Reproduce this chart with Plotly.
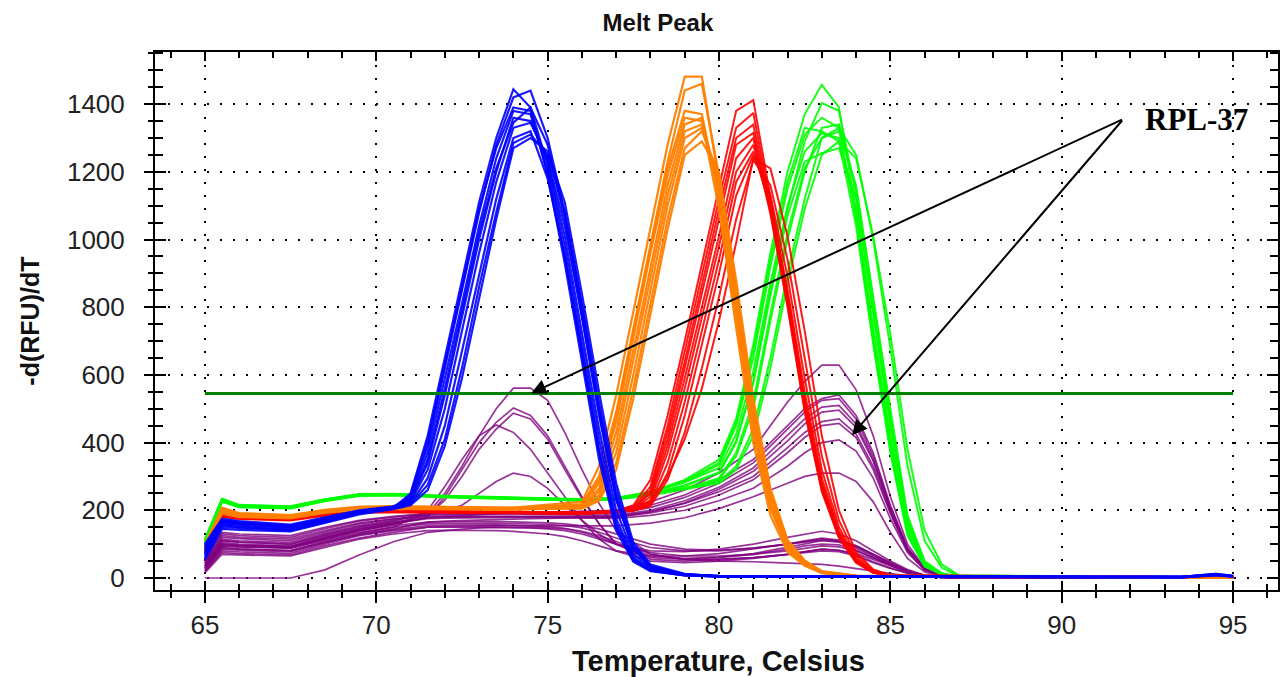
import plotly.graph_objects as go

# ---------------- data ----------------
blue_temps = [65, 65.5, 66, 67.5, 68.5, 69.5, 70.5, 71, 71.5, 72, 72.5, 73, 73.5, 74, 74.5,
              75, 75.5, 76, 76.5, 77, 77.5, 78, 79, 80, 93.5, 94.5, 95]
blue_curves = [
    [60, 150, 148, 140, 165, 190, 205, 250, 420, 650, 880, 1110, 1300, 1444, 1390, 1220, 980, 700, 410, 175, 62, 25, 10, 6, 3, 12, 6],
    [75, 162, 158, 150, 172, 195, 208, 240, 390, 620, 850, 1080, 1280, 1420, 1440, 1300, 1080, 800, 500, 240, 90, 34, 11, 6, 3, 10, 5],
    [85, 168, 162, 152, 175, 197, 210, 235, 370, 590, 810, 1040, 1240, 1380, 1370, 1200, 950, 660, 370, 150, 52, 22, 8, 5, 3, 11, 5],
    [70, 158, 154, 146, 170, 193, 206, 228, 340, 540, 770, 1000, 1200, 1360, 1350, 1230, 1010, 730, 440, 200, 72, 28, 9, 5, 2, 9, 4],
    [95, 172, 165, 155, 177, 198, 210, 225, 320, 500, 730, 960, 1170, 1330, 1345, 1240, 1040, 770, 480, 230, 85, 32, 10, 5, 2, 10, 5],
    [65, 155, 150, 143, 168, 192, 205, 220, 295, 450, 670, 900, 1120, 1300, 1320, 1180, 950, 670, 380, 160, 56, 22, 8, 4, 2, 8, 4],
    [80, 165, 160, 150, 173, 196, 208, 218, 275, 410, 620, 860, 1080, 1285, 1310, 1250, 1080, 810, 520, 260, 95, 36, 11, 5, 2, 9, 4],
    [55, 145, 142, 138, 163, 188, 203, 215, 260, 390, 590, 830, 1060, 1270, 1300, 1260, 1110, 840, 550, 280, 105, 40, 12, 5, 3, 10, 5],
    [90, 170, 163, 153, 176, 198, 210, 245, 405, 630, 860, 1090, 1270, 1390, 1380, 1190, 930, 640, 350, 140, 48, 20, 8, 5, 3, 11, 5],
    [100, 175, 168, 158, 179, 200, 212, 230, 350, 560, 790, 1020, 1210, 1345, 1390, 1280, 1060, 780, 490, 235, 88, 33, 10, 5, 3, 12, 6],
]

orange_temps = [65, 65.5, 66, 67.5, 68.5, 69.5, 70.5, 72, 74, 76, 76.5, 77, 77.5, 78, 78.5,
                79, 79.5, 80, 80.5, 81, 81.5, 82, 82.5, 83, 84, 95]
orange_curves = [
    [95, 205, 190, 185, 200, 210, 212, 210, 208, 225, 330, 540, 790, 1040, 1280, 1481, 1481, 1170, 800, 450, 215, 88, 42, 16, 6, 2],
    [85, 198, 186, 180, 196, 206, 208, 206, 205, 218, 300, 490, 740, 990, 1230, 1440, 1460, 1190, 830, 480, 235, 98, 46, 18, 6, 2],
    [90, 200, 188, 182, 198, 208, 210, 207, 205, 214, 280, 460, 710, 960, 1190, 1360, 1350, 1090, 740, 400, 185, 76, 36, 14, 5, 2],
    [80, 195, 183, 178, 194, 204, 206, 204, 203, 210, 265, 430, 670, 920, 1160, 1340, 1360, 1140, 790, 450, 215, 88, 42, 16, 5, 2],
    [100, 208, 192, 186, 201, 210, 212, 209, 207, 212, 255, 400, 640, 890, 1130, 1320, 1340, 1160, 820, 480, 235, 96, 45, 17, 6, 2],
    [75, 190, 180, 176, 192, 202, 204, 202, 201, 208, 245, 370, 600, 850, 1100, 1300, 1330, 1180, 850, 500, 245, 102, 48, 18, 6, 2],
    [88, 200, 187, 181, 197, 207, 209, 206, 204, 206, 235, 340, 560, 810, 1060, 1270, 1320, 1190, 860, 510, 255, 108, 50, 19, 6, 2],
    [92, 203, 189, 183, 199, 208, 210, 208, 206, 205, 228, 320, 530, 780, 1030, 1250, 1290, 1200, 880, 530, 265, 112, 52, 20, 7, 2],
    [86, 199, 187, 181, 197, 207, 209, 206, 204, 216, 290, 475, 725, 975, 1210, 1380, 1370, 1120, 770, 430, 205, 84, 40, 15, 5, 2],
]

red_temps = [65, 65.5, 66, 67.5, 68.5, 69.5, 70.5, 72, 74, 76, 77, 77.5, 78, 78.5, 79, 79.5,
             80, 80.5, 81, 81.5, 82, 82.5, 83, 83.5, 84, 84.5, 85, 95]
red_curves = [
    [80, 185, 178, 174, 188, 196, 197, 196, 194, 192, 198, 215, 290, 480, 700, 930, 1150, 1380, 1412, 1130, 840, 530, 280, 130, 50, 18, 6, 2],
    [75, 182, 176, 172, 186, 194, 196, 195, 193, 191, 196, 210, 270, 450, 670, 900, 1120, 1330, 1374, 1110, 820, 510, 270, 125, 48, 17, 6, 2],
    [85, 188, 180, 176, 190, 197, 198, 197, 195, 193, 199, 205, 250, 410, 620, 840, 1060, 1280, 1315, 1090, 810, 500, 260, 120, 46, 16, 5, 2],
    [78, 184, 177, 173, 187, 195, 196, 195, 193, 191, 196, 203, 240, 390, 590, 800, 1010, 1240, 1300, 1075, 800, 490, 255, 118, 45, 15, 5, 2],
    [82, 186, 179, 175, 189, 196, 197, 196, 194, 192, 197, 200, 230, 370, 560, 770, 980, 1200, 1280, 1085, 820, 520, 275, 128, 50, 17, 6, 2],
    [70, 180, 174, 170, 184, 192, 194, 193, 191, 189, 194, 198, 220, 340, 520, 730, 940, 1170, 1260, 1100, 850, 550, 295, 138, 54, 18, 6, 2],
    [88, 190, 182, 178, 191, 198, 199, 198, 196, 194, 198, 200, 215, 310, 480, 690, 900, 1130, 1250, 1130, 890, 590, 320, 150, 58, 20, 7, 2],
    [76, 183, 176, 172, 186, 194, 195, 194, 192, 190, 195, 199, 212, 290, 430, 620, 830, 1060, 1235, 1160, 940, 650, 360, 170, 66, 22, 7, 2],
    [84, 187, 180, 176, 190, 197, 198, 197, 195, 193, 198, 201, 225, 300, 410, 560, 760, 990, 1240, 1210, 1010, 730, 420, 200, 76, 25, 8, 2],
    [79, 185, 178, 174, 188, 196, 197, 196, 194, 192, 197, 203, 260, 430, 640, 870, 1090, 1300, 1340, 1100, 820, 515, 270, 124, 48, 16, 5, 2],
]

green_temps = [65, 65.5, 66, 67.5, 68.5, 69.5, 70.5, 72, 74, 76, 77, 78, 79, 80, 80.5, 81,
               81.5, 82, 82.5, 83, 83.5, 84, 84.5, 85, 85.5, 86, 86.5, 87, 95]
green_curves = [
    [110, 232, 214, 210, 232, 247, 248, 242, 237, 232, 236, 255, 290, 350, 470, 690, 960, 1200, 1370, 1457, 1390, 1080, 720, 400, 140, 38, 12, 4, 2],
    [100, 228, 211, 207, 229, 244, 246, 240, 235, 230, 234, 248, 272, 310, 400, 580, 850, 1090, 1290, 1403, 1380, 1130, 780, 450, 160, 42, 12, 4, 2],
    [105, 230, 212, 208, 230, 246, 247, 241, 236, 231, 235, 252, 284, 335, 450, 650, 920, 1150, 1310, 1360, 1330, 1060, 700, 380, 130, 35, 11, 4, 2],
    [95, 225, 209, 205, 227, 242, 244, 238, 233, 228, 232, 244, 262, 290, 360, 500, 760, 1000, 1200, 1330, 1340, 1150, 820, 480, 175, 46, 13, 4, 2],
    [115, 235, 216, 212, 233, 248, 249, 243, 238, 233, 237, 254, 283, 325, 425, 610, 870, 1100, 1260, 1314, 1300, 1090, 740, 420, 150, 40, 11, 4, 2],
    [98, 226, 210, 206, 228, 243, 245, 239, 234, 229, 233, 246, 265, 295, 370, 520, 780, 1020, 1210, 1300, 1320, 1160, 830, 500, 185, 50, 14, 4, 2],
    [108, 231, 213, 209, 231, 246, 247, 241, 236, 231, 235, 250, 274, 312, 405, 575, 835, 1070, 1230, 1255, 1270, 1120, 790, 460, 170, 46, 13, 4, 2],
    [102, 229, 212, 208, 230, 245, 246, 240, 235, 230, 234, 253, 287, 340, 460, 670, 940, 1170, 1330, 1320, 1290, 1040, 690, 370, 125, 34, 10, 4, 2],
    [112, 233, 215, 211, 232, 247, 248, 242, 237, 232, 236, 250, 265, 285, 330, 440, 650, 900, 1120, 1300, 1330, 1250, 1000, 680, 330, 110, 30, 6, 2],
    [104, 229, 212, 208, 230, 245, 246, 240, 235, 230, 234, 247, 262, 280, 320, 420, 620, 870, 1090, 1250, 1290, 1240, 1010, 720, 380, 140, 40, 8, 2],
]

purple_temps = [65, 65.5, 66, 67.5, 68.5, 69.5, 70.5, 71.5, 72, 72.5, 73, 73.5, 74, 74.5, 75,
                75.5, 76, 76.5, 77, 78, 79, 80, 81, 82, 82.5, 83, 83.5, 84, 84.5, 85, 85.5,
                86, 86.5, 87, 95]
purple_curves = [
    # early-peak samples
    [45, 110, 106, 100, 128, 152, 168, 190, 250, 330, 420, 500, 561, 561, 525, 430, 320, 220, 140, 70, 55, 50, 48, 45, 43, 40, 35, 28, 20, 12, 6, 3, 1, 0, 0],
    [35, 95, 92, 88, 115, 140, 158, 180, 240, 320, 400, 460, 502, 480, 420, 330, 240, 160, 100, 55, 50, 55, 60, 70, 75, 80, 78, 65, 45, 28, 14, 5, 2, 0, 0],
    [40, 100, 97, 92, 120, 145, 162, 185, 230, 300, 380, 440, 487, 470, 410, 320, 235, 160, 100, 60, 55, 60, 70, 85, 95, 100, 98, 82, 60, 38, 20, 8, 3, 1, 0],
    [30, 90, 86, 82, 108, 132, 150, 200, 270, 350, 420, 452, 430, 380, 310, 240, 170, 115, 80, 50, 45, 50, 58, 70, 78, 85, 82, 68, 48, 30, 15, 6, 2, 0, 0],
    [50, 115, 110, 105, 132, 155, 170, 192, 200, 215, 250, 285, 310, 300, 265, 215, 170, 130, 100, 65, 58, 62, 72, 90, 100, 110, 106, 88, 64, 40, 20, 8, 3, 1, 0],
    # late-peak samples
    [30, 100, 96, 92, 118, 142, 160, 178, 182, 185, 188, 190, 192, 193, 194, 195, 196, 198, 200, 225, 260, 310, 380, 520, 580, 629, 629, 556, 420, 240, 100, 30, 8, 2, 0],
    [55, 130, 125, 120, 146, 168, 180, 190, 192, 193, 194, 195, 195, 195, 195, 195, 195, 196, 198, 215, 245, 290, 350, 450, 500, 530, 541, 480, 370, 215, 90, 28, 8, 2, 0],
    [45, 120, 116, 110, 136, 160, 174, 186, 188, 189, 190, 190, 190, 190, 190, 190, 190, 190, 191, 208, 238, 280, 340, 440, 490, 525, 530, 470, 360, 210, 88, 27, 8, 2, 0],
    [60, 135, 130, 125, 150, 170, 182, 190, 191, 191, 191, 190, 189, 188, 187, 186, 186, 186, 186, 200, 228, 268, 325, 420, 470, 505, 510, 455, 350, 205, 86, 26, 7, 2, 0],
    [25, 85, 82, 78, 104, 128, 145, 165, 168, 170, 172, 173, 174, 175, 176, 176, 177, 178, 180, 195, 222, 262, 315, 405, 455, 490, 496, 445, 345, 200, 84, 26, 7, 2, 0],
    [40, 110, 106, 100, 126, 150, 165, 178, 180, 181, 182, 182, 182, 182, 182, 182, 182, 182, 183, 196, 220, 255, 300, 385, 430, 462, 470, 425, 330, 195, 82, 25, 7, 2, 0],
    [35, 105, 100, 95, 122, 146, 162, 175, 177, 178, 179, 180, 180, 180, 180, 180, 180, 180, 180, 192, 212, 245, 290, 370, 415, 450, 457, 415, 320, 190, 80, 25, 7, 2, 0],
    [50, 125, 120, 115, 140, 162, 175, 182, 183, 183, 183, 182, 181, 180, 179, 178, 177, 176, 176, 185, 200, 228, 265, 330, 370, 400, 408, 375, 295, 175, 75, 23, 6, 2, 0],
    [20, 75, 72, 68, 95, 118, 135, 150, 152, 153, 154, 154, 154, 154, 154, 154, 154, 154, 154, 162, 178, 205, 240, 280, 300, 310, 310, 285, 225, 135, 58, 18, 5, 1, 0],
    # low samples
    [20, 80, 77, 73, 100, 125, 140, 150, 150, 150, 150, 150, 150, 148, 145, 140, 130, 115, 100, 80, 78, 85, 100, 120, 130, 138, 130, 110, 80, 50, 25, 8, 3, 1, 0],
    [15, 70, 68, 65, 90, 115, 130, 140, 141, 141, 141, 140, 138, 135, 130, 122, 110, 95, 80, 65, 65, 72, 85, 100, 110, 118, 112, 95, 70, 44, 22, 7, 2, 0, 0],
    [0, 0, 0, 0, 24, 68, 107, 135, 140, 145, 148, 150, 150, 150, 148, 145, 135, 120, 100, 75, 65, 65, 70, 80, 88, 95, 92, 80, 60, 38, 18, 6, 2, 0, 0],
    [30, 95, 92, 88, 112, 135, 150, 160, 161, 162, 162, 162, 161, 160, 158, 155, 148, 135, 118, 90, 80, 80, 88, 100, 108, 115, 110, 95, 70, 45, 22, 7, 2, 0, 0],
    [25, 88, 85, 80, 105, 128, 143, 155, 156, 157, 157, 157, 156, 155, 152, 147, 138, 125, 108, 70, 55, 55, 60, 70, 78, 85, 82, 72, 55, 35, 17, 6, 2, 0, 0],
    [35, 100, 96, 92, 116, 140, 155, 165, 166, 167, 167, 167, 166, 165, 163, 160, 154, 145, 130, 100, 85, 82, 88, 100, 108, 112, 108, 92, 68, 42, 20, 7, 2, 0, 0],
]

threshold_temps = [65, 95]
threshold_value = 545

x_ticks = [65, 70, 75, 80, 85, 90, 95]
y_ticks = [0, 200, 400, 600, 800, 1000, 1200, 1400]

label_text = "RPL-37"
label_pos = (93.93, 1356)
arrow_tail = (91.8, 1356)
arrow_tips = [(74.52, 546), (83.88, 422)]

# ---------------- figure ----------------
fig = go.Figure()

groups = [
    (purple_temps, purple_curves, "rgba(128,0,128,0.8)", 1.7),
    (green_temps, green_curves, "rgba(0,255,0,0.9)", 2.0),
    (red_temps, red_curves, "rgba(255,0,0,0.9)", 2.0),
    (orange_temps, orange_curves, "rgba(255,128,0,0.95)", 2.2),
    (blue_temps, blue_curves, "rgba(0,0,255,0.9)", 2.2),
]
for temps, curves, color, w in groups:
    for c in curves:
        fig.add_trace(go.Scatter(x=temps, y=c, mode="lines",
                                 line=dict(color=color, width=w),
                                 hoverinfo="skip", showlegend=False))

fig.add_trace(go.Scatter(x=threshold_temps, y=[threshold_value] * len(threshold_temps),
                         mode="lines", line=dict(color="#008000", width=3),
                         hoverinfo="skip", showlegend=False))

# helper invisible trace for the inside-tick axes
fig.add_trace(go.Scatter(x=[None], y=[None], xaxis="x2", yaxis="y2", mode="lines",
                         showlegend=False, hoverinfo="skip"))

XR = [63.544, 96.31]
YR = [-35.5, 1554]
FONT = "Liberation Sans, Arial, sans-serif"

common_x = dict(range=XR, autorange=False, showline=True, linecolor="black", linewidth=2,
                zeroline=False, tickcolor="black", tickwidth=2, tickvals=x_ticks)
common_y = dict(range=YR, autorange=False, showline=True, linecolor="black", linewidth=2,
                zeroline=False, tickcolor="black", tickwidth=2, tickvals=y_ticks)

fig.update_layout(
    width=1280, height=677,
    margin=dict(l=155, r=0, t=52, b=87),
    plot_bgcolor="white", paper_bgcolor="white",
    font=dict(family=FONT, color="black"),
    title=dict(text="<b>Melt Peak</b>", x=0.514, xref="container", xanchor="center",
               y=1 - 23 / 677, yref="container", yanchor="middle",
               font=dict(size=24, family=FONT, color="#111")),
    xaxis=dict(**common_x, ticks="outside", ticklen=11, mirror=True,
               showgrid=True, gridcolor="black", gridwidth=1.5, griddash="2px,11px",
               tickfont=dict(size=26, family=FONT, color="#222"),
               minor=dict(dtick=1, tick0=0, ticks="outside", ticklen=6, tickwidth=2,
                          tickcolor="black", showgrid=False)),
    yaxis=dict(**common_y, ticks="outside", ticklen=9, mirror=True,
               showgrid=True, gridcolor="black", gridwidth=1.5, griddash="2px,11px",
               tickfont=dict(size=26, family=FONT, color="#222"), ticklabelstandoff=14,
               minor=dict(dtick=50, tick0=0, ticks="outside", ticklen=5, tickwidth=2,
                          tickcolor="black", showgrid=False)),
    xaxis2=dict(**common_x, overlaying="x", anchor="y2", side="bottom", ticks="inside",
                ticklen=9, mirror="ticks", showticklabels=False, showgrid=False,
                minor=dict(dtick=1, tick0=0, ticks="inside", ticklen=6, tickwidth=2,
                           tickcolor="black", showgrid=False)),
    yaxis2=dict(**common_y, overlaying="y", anchor="x2", side="left", ticks="inside",
                ticklen=11, mirror="ticks", showticklabels=False, showgrid=False,
                minor=dict(dtick=50, tick0=0, ticks="inside", ticklen=8, tickwidth=2,
                           tickcolor="black", showgrid=False)),
)

annotations = [
    dict(text="<b>Temperature, Celsius</b>", xref="paper", yref="paper",
         x=0.502, y=-0.132, xanchor="center", yanchor="middle", showarrow=False,
         font=dict(size=29, family=FONT, color="#111")),
    dict(text="<b>-d(RFU)/dT</b>", xref="paper", yref="paper",
         x=-0.1116, y=0.5, xanchor="center", yanchor="middle", textangle=-90,
         showarrow=False, font=dict(size=25, family=FONT, color="#111")),
    dict(text="<b>" + label_text + "</b>", xref="x", yref="y",
         x=label_pos[0], y=label_pos[1], xanchor="center", yanchor="middle",
         showarrow=False,
         font=dict(size=31, family="Liberation Serif, Times New Roman, serif", color="black")),
]
for tx, ty in arrow_tips:
    annotations.append(dict(text="", xref="x", yref="y", x=tx, y=ty,
                            axref="x", ayref="y", ax=arrow_tail[0], ay=arrow_tail[1],
                            showarrow=True, arrowhead=2, arrowsize=1.5, arrowwidth=2,
                            arrowcolor="black", standoff=0))
fig.update_layout(annotations=annotations)

fig.write_html("out.html")
